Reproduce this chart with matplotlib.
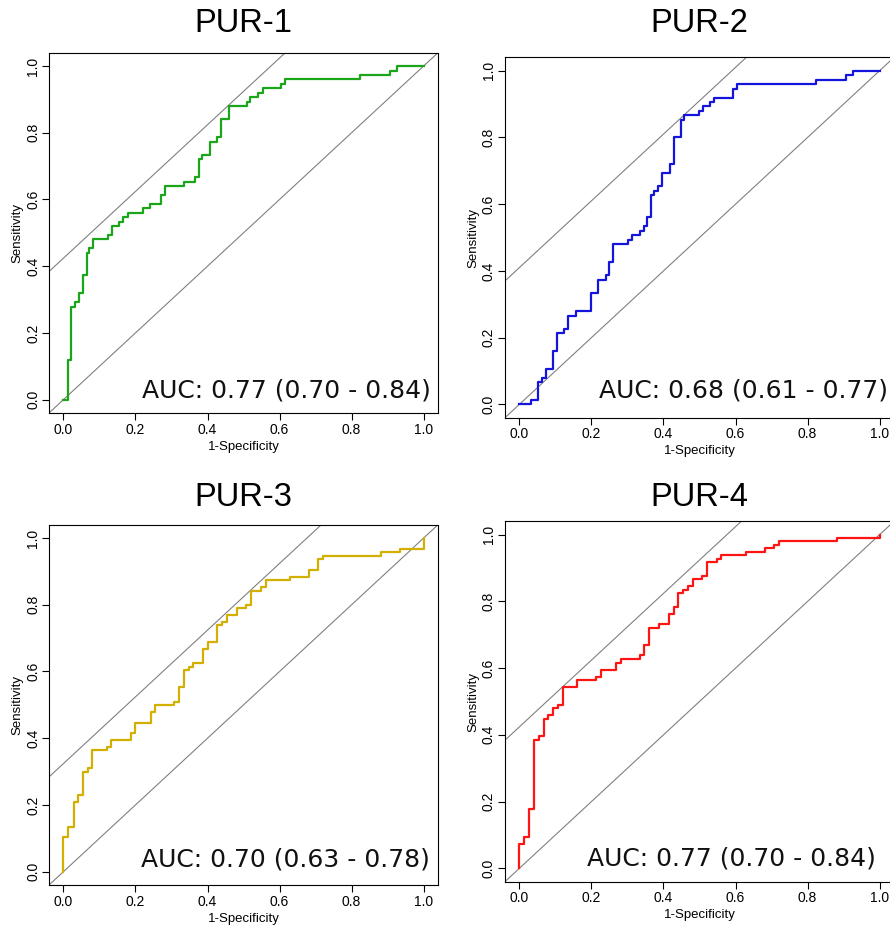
import matplotlib
matplotlib.use('Agg')
import matplotlib.pyplot as plt

plt.rcParams['font.family'] = ['Liberation Sans', 'DejaVu Sans']

titles = ['PUR-1', 'PUR-2', 'PUR-3', 'PUR-4']
colors = ['#1aa51a', '#1414dc', '#d2af00', '#ff1414']
auc_labels = ['AUC: 0.77 (0.70 - 0.84)', 'AUC: 0.68 (0.61 - 0.77)',
              'AUC: 0.70 (0.63 - 0.78)', 'AUC: 0.77 (0.70 - 0.84)']

# step points of each ROC curve (1-specificity, sensitivity)
fpr1 = [0, 0.012, 0.021, 0.032, 0.042, 0.053, 0.064, 0.072, 0.083, 0.125, 0.136, 0.155,
        0.165, 0.178, 0.22, 0.24, 0.272, 0.281, 0.334, 0.365, 0.375, 0.384, 0.406, 0.426,
        0.438, 0.459, 0.509, 0.519, 0.541, 0.553, 0.605, 0.616, 0.823, 0.906, 0.927, 1.0]
tpr1 = [0, 0.12, 0.279, 0.292, 0.319, 0.373, 0.441, 0.453, 0.481, 0.492, 0.52, 0.533,
        0.546, 0.56, 0.573, 0.586, 0.613, 0.641, 0.653, 0.667, 0.722, 0.733, 0.773, 0.786,
        0.84, 0.88, 0.892, 0.906, 0.92, 0.933, 0.947, 0.96, 0.973, 0.986, 1.0, 1.0]

fpr2 = [0, 0.032, 0.053, 0.062, 0.073, 0.093, 0.104, 0.125, 0.136, 0.156, 0.199, 0.219,
        0.24, 0.25, 0.261, 0.302, 0.312, 0.334, 0.345, 0.355, 0.365, 0.375, 0.385, 0.396,
        0.417, 0.428, 0.448, 0.457, 0.5, 0.51, 0.53, 0.541, 0.594, 0.604, 0.823, 0.906,
        0.927, 1.0]
tpr2 = [0, 0.013, 0.066, 0.08, 0.107, 0.16, 0.213, 0.227, 0.266, 0.28, 0.333, 0.373,
        0.387, 0.427, 0.481, 0.494, 0.507, 0.52, 0.534, 0.561, 0.627, 0.64, 0.654, 0.694,
        0.72, 0.8, 0.853, 0.866, 0.88, 0.893, 0.906, 0.919, 0.946, 0.96, 0.973, 0.987,
        1.0, 1.0]

fpr3 = [0, 0, 0.014, 0.028, 0.041, 0.054, 0.067, 0.08, 0.12, 0.133, 0.187, 0.2, 0.242,
        0.254, 0.308, 0.322, 0.335, 0.348, 0.36, 0.387, 0.4, 0.427, 0.441, 0.454, 0.481,
        0.508, 0.521, 0.548, 0.561, 0.628, 0.682, 0.708, 0.721, 0.881, 0.933, 1.0]
tpr3 = [0, 0.103, 0.135, 0.208, 0.229, 0.3, 0.312, 0.364, 0.375, 0.395, 0.417, 0.447,
        0.478, 0.5, 0.51, 0.552, 0.603, 0.614, 0.624, 0.666, 0.687, 0.739, 0.749, 0.77,
        0.79, 0.8, 0.842, 0.853, 0.875, 0.884, 0.905, 0.936, 0.947, 0.957, 0.967, 1.0]

fpr4 = [0, 0, 0.013, 0.027, 0.04, 0.054, 0.067, 0.08, 0.094, 0.107, 0.121, 0.161, 0.214,
        0.227, 0.267, 0.281, 0.334, 0.347, 0.36, 0.387, 0.414, 0.428, 0.441, 0.455, 0.468,
        0.481, 0.507, 0.521, 0.548, 0.561, 0.628, 0.681, 0.708, 0.721, 0.882, 1.0]
tpr4 = [0, 0.074, 0.094, 0.178, 0.386, 0.396, 0.449, 0.459, 0.48, 0.491, 0.543, 0.564,
        0.574, 0.595, 0.616, 0.626, 0.638, 0.669, 0.721, 0.731, 0.762, 0.783, 0.825, 0.835,
        0.845, 0.866, 0.876, 0.918, 0.928, 0.939, 0.949, 0.96, 0.97, 0.98, 0.99, 1.0]

fprs = [fpr1, fpr2, fpr3, fpr4]
tprs = [tpr1, tpr2, tpr3, tpr4]
upper_intercepts = [0.424, 0.41, 0.324, 0.424]

# layout (figure fractions) and label spots
boxes = [[0.0551, 0.5545, 0.4371, 0.3887], [0.5674, 0.5494, 0.4371, 0.3887],
         [0.0551, 0.0453, 0.4371, 0.3887], [0.5674, 0.0489, 0.4371, 0.3887]]
auc_pos = [(1.019, 0.007), (1.022, 0.02), (1.017, 0.015), (0.989, 0.007)]
title_y = [1 - 24 / 927, 1 - 24 / 927, 1 - 497 / 927, 1 - 497 / 927]

fig = plt.figure(figsize=(8.9, 9.27), dpi=100)

for i in range(4):
    ax = fig.add_axes(boxes[i])
    ax.set_xlim(-0.04, 1.04)
    ax.set_ylim(-0.04, 1.04)
    ax.axline((0, 0), slope=1, color='#808080', lw=0.8, zorder=1)
    ax.axline((0, upper_intercepts[i]), slope=1, color='#808080', lw=0.8, zorder=1)
    ax.step(fprs[i], tprs[i], where='post', color=colors[i], lw=1.6, zorder=2)
    ax.set_xticks([0, 0.2, 0.4, 0.6, 0.8, 1.0])
    ax.set_yticks([0, 0.2, 0.4, 0.6, 0.8, 1.0])
    ax.set_xticklabels(['0.0', '0.2', '0.4', '0.6', '0.8', '1.0'])
    ax.set_yticklabels(['0.0', '0.2', '0.4', '0.6', '0.8', '1.0'])
    ax.tick_params(length=5, width=0.8, labelsize=10, pad=2)
    ax.tick_params(axis='y', labelrotation=90, pad=1.5)
    for lab in ax.get_yticklabels():
        lab.set_va('center')
    for s in ax.spines.values():
        s.set_linewidth(0.8)
    ax.set_xlabel('1-Specificity', fontsize=9.5)
    ax.set_ylabel('Sensitivity', fontsize=9.5)
    ax.xaxis.set_label_coords(0.5, -0.0935)
    ax.xaxis.label.set_va('center')
    ax.yaxis.set_label_coords(-0.082, 0.5)
    ax.yaxis.label.set_va('center')
    ax.text(auc_pos[i][0], auc_pos[i][1], auc_labels[i], ha='right', va='baseline',
            fontsize=18, family='DejaVu Sans', color='#111111')
    fig.text(boxes[i][0] + boxes[i][2] / 2, title_y[i], titles[i], ha='center',
             va='center', fontsize=23.5)

fig.savefig('out.png', dpi=100)
